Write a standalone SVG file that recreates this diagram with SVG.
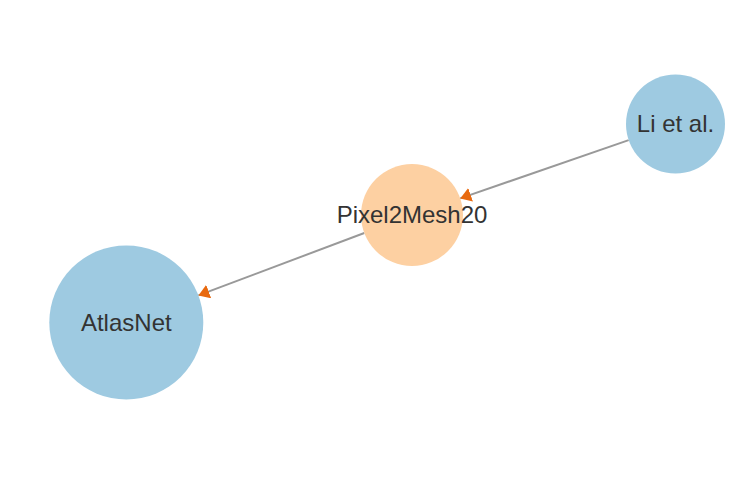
<svg xmlns="http://www.w3.org/2000/svg" width="742" height="482" viewBox="0 0 742 482">
<style>
.edge{stroke:#999;stroke-width:2;fill:none}
.blue{fill:#9ecae1}
.orange{fill:#fdd0a2}
.lbl{font-family:"Liberation Sans",Arial,sans-serif;fill:#333;text-anchor:middle;font-size:24px}
</style>
<defs>
<marker id="arr" viewBox="0 -6.5 10 13" refX="10" refY="0" markerWidth="11" markerHeight="14.3" markerUnits="userSpaceOnUse" orient="auto">
<path d="M0,-6.5L10,0L0,6.5Z" fill="#e8690f"/>
</marker>
</defs>
<rect width="742" height="482" fill="#fff"/>
<g id="edges">
<line class="edge" x1="628.7" y1="140.1" x2="460.2" y2="198.4" marker-end="url(#arr)"/>
<line class="edge" x1="364.3" y1="233" x2="198.4" y2="295.4" marker-end="url(#arr)"/>
</g>
<g id="node-li">
<circle class="blue" cx="675.5" cy="124" r="49.5"/>
<text class="lbl" x="675.5" y="132">Li et al.</text>
</g>
<g id="node-pixel2mesh">
<circle class="orange" cx="412" cy="215" r="51"/>
<text class="lbl" x="412" y="223">Pixel2Mesh20</text>
</g>
<g id="node-atlasnet">
<circle class="blue" cx="126.3" cy="322.5" r="77"/>
<text class="lbl" x="126.3" y="331">AtlasNet</text>
</g>
</svg>
